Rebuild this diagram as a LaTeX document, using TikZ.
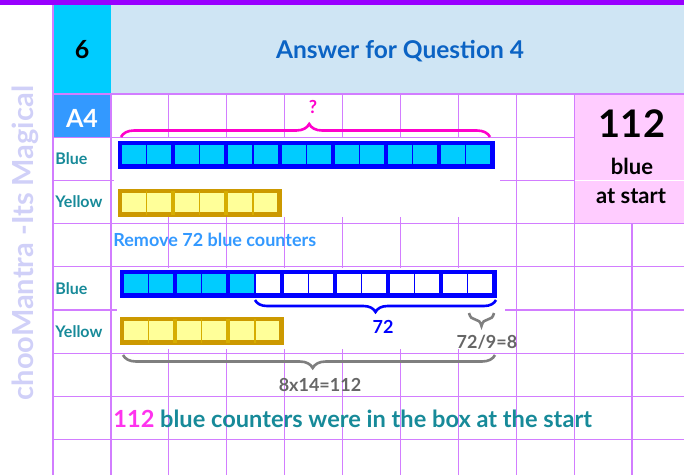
\documentclass[tikz,border=0pt]{standalone}
\usepackage{fontspec}
\setmainfont{Lato}
\usetikzlibrary{decorations.pathreplacing}

\definecolor{gridpurple}{HTML}{D27DFF}
\definecolor{topbar}{HTML}{9900FF}
\definecolor{headcyan}{HTML}{00CCFF}
\definecolor{headblue}{HTML}{CFE5F4}
\definecolor{titleblue}{HTML}{0B63C4}
\definecolor{tagblue}{HTML}{3399FF}
\definecolor{pinkbox}{HTML}{FFCCFF}
\definecolor{labelteal}{HTML}{178A99}
\definecolor{barblue}{HTML}{0000FF}
\definecolor{barcyan}{HTML}{00CCFF}
\definecolor{bargold}{HTML}{CC9900}
\definecolor{baryellow}{HTML}{FFFF99}
\definecolor{qmagenta}{HTML}{FF00CC}
\definecolor{ansmagenta}{HTML}{FF33EE}
\definecolor{braceggray}{HTML}{7F7F7F}
\definecolor{notegray}{HTML}{666666}
\definecolor{wmark}{HTML}{D0D0F8}

\newcommand{\fsz}[1]{\fontsize{#1}{#1}\selectfont}

\begin{document}
\begin{tikzpicture}[x=1pt, y=-1pt, thick,
    gridline/.style={draw=gridpurple, line width=1.2pt},
    bar/.style={line width=4.4pt, inner sep=0pt, outer sep=0pt,
        anchor=north west, minimum height=23.5pt},
    bluebar/.style={bar, draw=barblue, fill=barcyan},
    yellowbar/.style={bar, draw=bargold, fill=baryellow},
    rowlabel/.style={anchor=west, inner sep=0pt, text=labelteal,
        font=\bfseries\fsz{16}},
    bracedeco/.style={decorate, line width=2.6pt,
        decoration={brace, amplitude=#1}},
    note/.style={inner sep=0pt, font=\bfseries\fsz{18}}]

    \useasboundingbox (0,0) rectangle (684,475);

    \fill[topbar] (0,0) rectangle (684,5);
    \fill[headcyan] (53,5) rectangle (111,94);
    \fill[headblue] (111,5) rectangle (684,94);
    \fill[tagblue] (53,94) rectangle (111,137);

    \foreach \i in {0,...,10}
        \draw[gridline] ({53+57.9*\i},94) -- ({53+57.9*\i},475);
    \foreach \j in {0,...,8}
        \draw[gridline] (53,{94+43.2*\j}) -- (684,{94+43.2*\j});
    \draw[gridline] (53,5) -- (53,94);

    \fill[pinkbox] (575,95) rectangle (684,223);
    \draw[white, line width=0.8pt] (575,180.4) -- (684,180.4);
    \fill[white] (114,138) rectangle (500,217);
    \fill[white] (117,268) rectangle (505,349);

    \node[font=\bfseries\fsz{25}] (num) at (82,50) {6};
    \node[font=\bfseries\fsz{24.5}, text=titleblue] (title) at (400,51)
        {Answer for Question 4};
    \node[font=\bfseries\fsz{25}, text=white] (tag) at (82,118) {A4};
    \node[rotate=90, font=\bfseries\fsz{29}, text=wmark] (brand) at (25,243)
        {chooMantra -Its Magical};

    \node[font=\bfseries\fsz{38}] (total) at (632,124) {112};
    \node[font=\bfseries\fsz{22}] (totalb) at (632,166) {blue};
    \node[font=\bfseries\fsz{22}] (totalc) at (631,196) {at start};

    \node[rowlabel] (lblblueone) at (55,159) {Blue};
    \node[rowlabel] (lblyellowone) at (55,202) {Yellow};
    \node[rowlabel] (lblbluetwo) at (55,289) {Blue};
    \node[rowlabel] (lblyellowtwo) at (55,332) {Yellow};

    \node[bluebar, minimum width=372.4pt] (blueone) at (120,143) {};
    \foreach \i in {1,...,13}
        \draw[barblue, line width={ifthenelse(mod(\i,2)==0,4,1.3)}]
            ({120+26.6*\i},143) -- ({120+26.6*\i},166.5);

    \node[yellowbar, minimum width=159.6pt] (yellowone) at (120,191) {};
    \foreach \i in {1,...,5}
        \draw[bargold!80!yellow, line width={ifthenelse(mod(\i,2)==0,4,1.3)}]
            ({120+26.6*\i},191) -- ({120+26.6*\i},214.5);

    \node[anchor=west, inner sep=0pt, font=\bfseries\fsz{18}, text=tagblue]
        (remove) at (113,240) {Remove 72 blue counters};

    \fill[barcyan] (122,272) rectangle (255,295.5);
    \node[bar, draw=barblue, minimum width=372.4pt] (bluetwo) at (122,272) {};
    \foreach \i in {1,...,13}
        \draw[barblue, line width={ifthenelse(mod(\i,2)==0,4,1.3)}]
            ({122+26.6*\i},272) -- ({122+26.6*\i},295.5);

    \node[yellowbar, minimum width=159.6pt] (yellowtwo) at (122,319) {};
    \foreach \i in {1,...,5}
        \draw[bargold!80!yellow, line width={ifthenelse(mod(\i,2)==0,4,1.3)}]
            ({122+26.6*\i},319) -- ({122+26.6*\i},342.5);

    \coordinate (qleft) at (121,137);
    \coordinate (qright) at (490,137);
    \draw[bracedeco=13pt, qmagenta, decoration={aspect=0.51}] (qleft) -- (qright);
    \node[note, font=\bfseries\fsz{18}, text=qmagenta] (ask) at (313,107) {?};

    \coordinate (rmleft) at (255,300);
    \coordinate (rmright) at (496,300);
    \draw[bracedeco=12pt, barblue] (rmright) -- (rmleft);
    \node[note, text=barblue] (removed) at (383,327) {72};

    \coordinate (oneleft) at (469,313);
    \coordinate (oneright) at (494,313);
    \draw[bracedeco=13pt, braceggray] (oneright) -- (oneleft);
    \node[note, text=notegray] (each) at (487,342) {72/9=8};

    \coordinate (allleft) at (123,355);
    \coordinate (allright) at (495,355);
    \draw[bracedeco=13pt, braceggray, decoration={aspect=0.49}] (allright) -- (allleft);
    \node[note, text=notegray] (product) at (320,385) {8x14=112};

    \node[anchor=west, inner sep=0pt, font=\bfseries\fsz{23.6}, text=labelteal]
        (answer) at (113,419)
        {\textcolor{ansmagenta}{112} blue counters were in the box at the start};
\end{tikzpicture}
\end{document}
